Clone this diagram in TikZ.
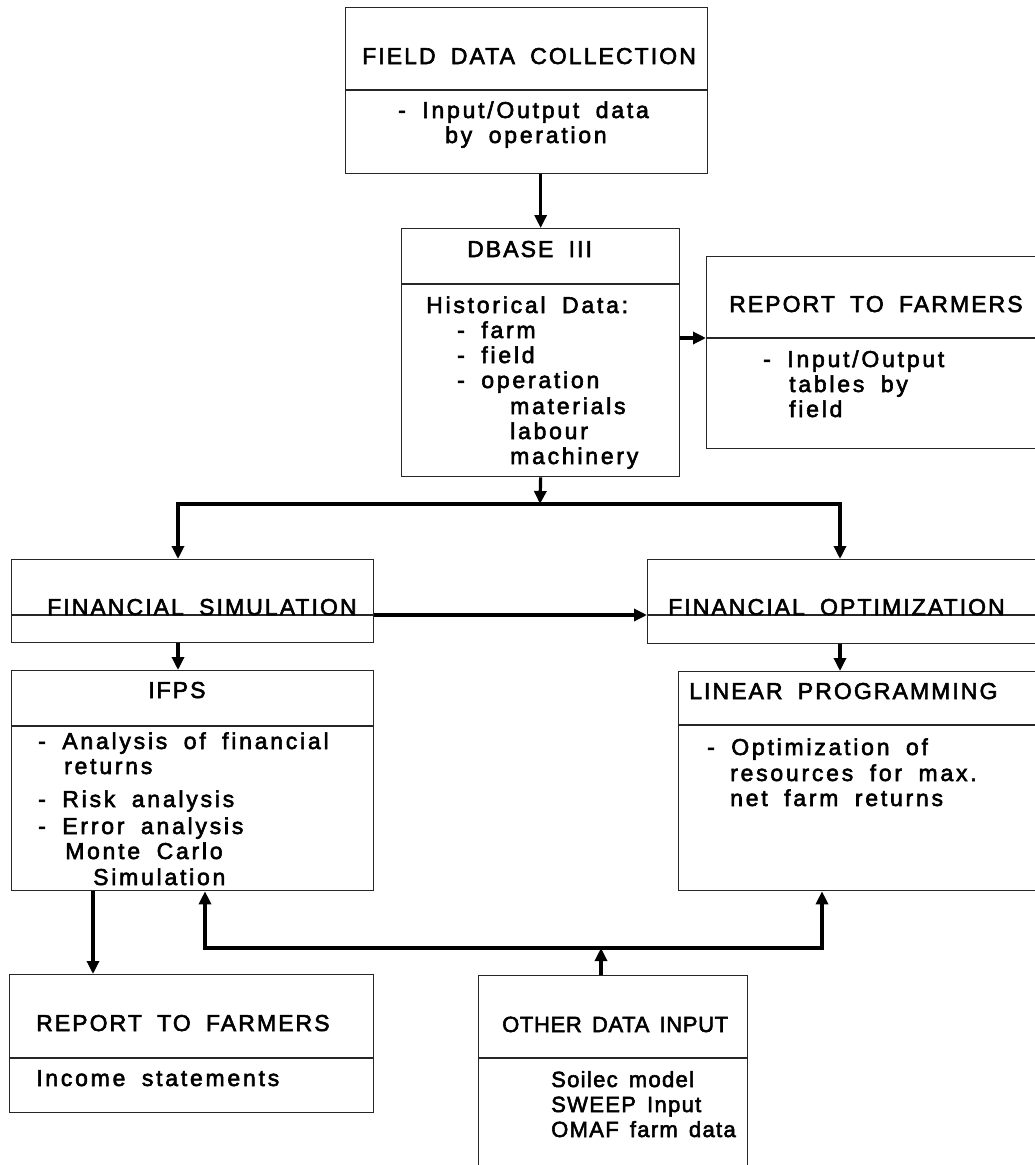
\documentclass[tikz,border=0pt]{standalone}
\usepackage{fontspec}
\setmainfont{Liberation Sans}
\newfontfamily\ttlfont[LetterSpace=9,WordSpace=1.8,FakeBold=2.5]{Liberation Sans}
\newfontfamily\bdyfont[LetterSpace=12,WordSpace=1.8,FakeBold=2.5]{Liberation Sans}
\newfontfamily\oditfont[LetterSpace=3,WordSpace=1.5,FakeBold=2.5]{Liberation Sans}
\newfontfamily\odibfont[LetterSpace=6,WordSpace=1.5,FakeBold=2.5]{Liberation Sans}
\usetikzlibrary{arrows.meta,calc}
\begin{document}
\begin{tikzpicture}[x=1pt,y=-1pt,
  box/.style={draw=black!85,line width=1.3pt,inner sep=0pt,anchor=north west},
  divline/.style={draw=black!85,line width=1.3pt},
  ttl/.style={anchor=base west,inner sep=0pt,font=\ttlfont\fontsize{23}{26}\selectfont},
  bdy/.style={anchor=base west,inner sep=0pt,font=\bdyfont\fontsize{23}{26}\selectfont},
  odt/.style={anchor=base west,inner sep=0pt,font=\oditfont\fontsize{22}{26}\selectfont},
  odb/.style={anchor=base west,inner sep=0pt,font=\odibfont\fontsize{22}{26}\selectfont},
  conn/.style={line width=3.2pt,-{Triangle[length=13pt,width=12pt]}},
  barline/.style={line width=3.2pt,line cap=rect}]
\useasboundingbox (0,0) rectangle (1034,1165);
\fill[white] (0,0) rectangle (1034,1165);

% ---- boxes
\node[box,minimum width=362pt,minimum height=166pt] (fdc) at (345,7) {};
\node[box,minimum width=278pt,minimum height=248pt] (db) at (401,228) {};
\node[box,minimum width=340pt,minimum height=192pt] (rtfa) at (706,256) {};
\node[box,minimum width=362pt,minimum height=83pt] (fs) at (11,559) {};
\node[box,minimum width=400pt,minimum height=84pt] (fo) at (647,559) {};
\node[box,minimum width=362pt,minimum height=220pt] (ifps) at (11,670) {};
\node[box,minimum width=370pt,minimum height=219pt] (lp) at (678,671) {};
\node[box,minimum width=364pt,minimum height=138pt] (rtfb) at (9,974) {};
\node[box,minimum width=269pt,minimum height=210pt] (odi) at (478,975) {};

% ---- dividers
\coordinate (fdcdiv) at (345,90);
\coordinate (dbdiv) at (401,284);
\coordinate (rtfadiv) at (706,338);
\coordinate (fsdiv) at (11,615);
\coordinate (fodiv) at (647,615);
\coordinate (ifpsdiv) at (11,726);
\coordinate (lpdiv) at (678,725);
\coordinate (rtfbdiv) at (9,1058);
\coordinate (odidiv) at (478,1058);
\draw[divline] (fdcdiv) -- (fdcdiv -| fdc.east);
\draw[divline] (dbdiv) -- (dbdiv -| db.east);
\draw[divline] (rtfadiv) -- (rtfadiv -| rtfa.east);
\draw[divline] (fsdiv) -- (fsdiv -| fs.east);
\draw[divline] (fodiv) -- (fodiv -| fo.east);
\draw[divline] (ifpsdiv) -- (ifpsdiv -| ifps.east);
\draw[divline] (lpdiv) -- (lpdiv -| lp.east);
\draw[divline] (rtfbdiv) -- (rtfbdiv -| rtfb.east);
\draw[divline] (odidiv) -- (odidiv -| odi.east);

% ---- texts
\node[ttl] (t1) at (362,64) {FIELD DATA COLLECTION};
\node[bdy] (t2) at (398,118) {- Input/Output data};
\node[bdy] (t3) at (445,143) {by operation};

\node[ttl] (t4) at (467,257) {DBASE III};
\node[bdy] (t5) at (426,313) {Historical Data:};
\node[bdy] (t6) at (457,338) {- farm};
\node[bdy] (t7) at (457,363) {- field};
\node[bdy] (t8) at (457,388) {- operation};
\node[bdy] (t9) at (510,414) {materials};
\node[bdy] (t10) at (510,439) {labour};
\node[bdy] (t11) at (510,464) {machinery};

\node[ttl] (t12) at (729,312) {REPORT TO FARMERS};
\node[bdy] (t13) at (763,367) {- Input/Output};
\node[bdy] (t14) at (789,392) {tables by};
\node[bdy] (t15) at (789,417) {field};

\node[ttl] (t16) at (47,615) {FINANCIAL SIMULATION};
\node[ttl] (t17) at (668,615) {FINANCIAL OPTIMIZATION};

\node[ttl] (t18) at (148,698) {IFPS};
\node[bdy] (t19) at (38,749) {- Analysis of financial};
\node[bdy] (t20) at (64,774) {returns};
\node[bdy] (t21) at (38,807) {- Risk analysis};
\node[bdy] (t22) at (38,834) {- Error analysis};
\node[bdy] (t23) at (65,859) {Monte Carlo};
\node[bdy] (t24) at (93,885) {Simulation};

\node[ttl] (t25) at (689,699) {LINEAR PROGRAMMING};
\node[bdy] (t26) at (707,755) {- Optimization of};
\node[bdy] (t27) at (730,781) {resources for max.};
\node[bdy] (t28) at (730,806) {net farm returns};

\node[ttl] (t29) at (36,1031) {REPORT TO FARMERS};
\node[bdy] (t30) at (36,1086) {Income statements};

\node[odt] (t31) at (502,1032) {OTHER DATA INPUT};
\node[odb] (t32) at (551,1087) {Soilec model};
\node[odb] (t33) at (551,1112) {SWEEP Input};
\node[odb] (t34) at (551,1137) {OMAF farm data};

% ---- connectors
\coordinate (jm) at (540,504);
\coordinate (jl) at (178,504);
\coordinate (jr) at (840,504);
\coordinate (km) at (601,948);
\coordinate (kl) at (205,948);
\coordinate (kr) at (822,948);
\coordinate (kd) at (93,948);

\draw[conn] (db.north |- fdc.south) -- (db.north);
\draw[conn] (db.east |- rtfadiv) -- (rtfadiv);
\draw[conn] (db.south) -- (jm);
\draw[barline] (jl) -- (jr);
\draw[conn] (jl) -- (jl |- fs.north);
\draw[conn] (jr) -- (jr |- fo.north);
\draw[conn] (fsdiv -| fs.east) -- (fodiv);
\draw[conn] (jl |- fs.south) -- (jl |- ifps.north);
\draw[conn] (jr |- fo.south) -- (jr |- lp.north);
\draw[conn] (kd |- ifps.south) -- (kd |- rtfb.north);
\draw[conn] (km |- odi.north) -- (km);
\draw[barline] (kl) -- (kr);
\draw[conn] (kl) -- (kl |- ifps.south);
\draw[conn] (kr) -- (kr |- lp.south);
\end{tikzpicture}
\end{document}
